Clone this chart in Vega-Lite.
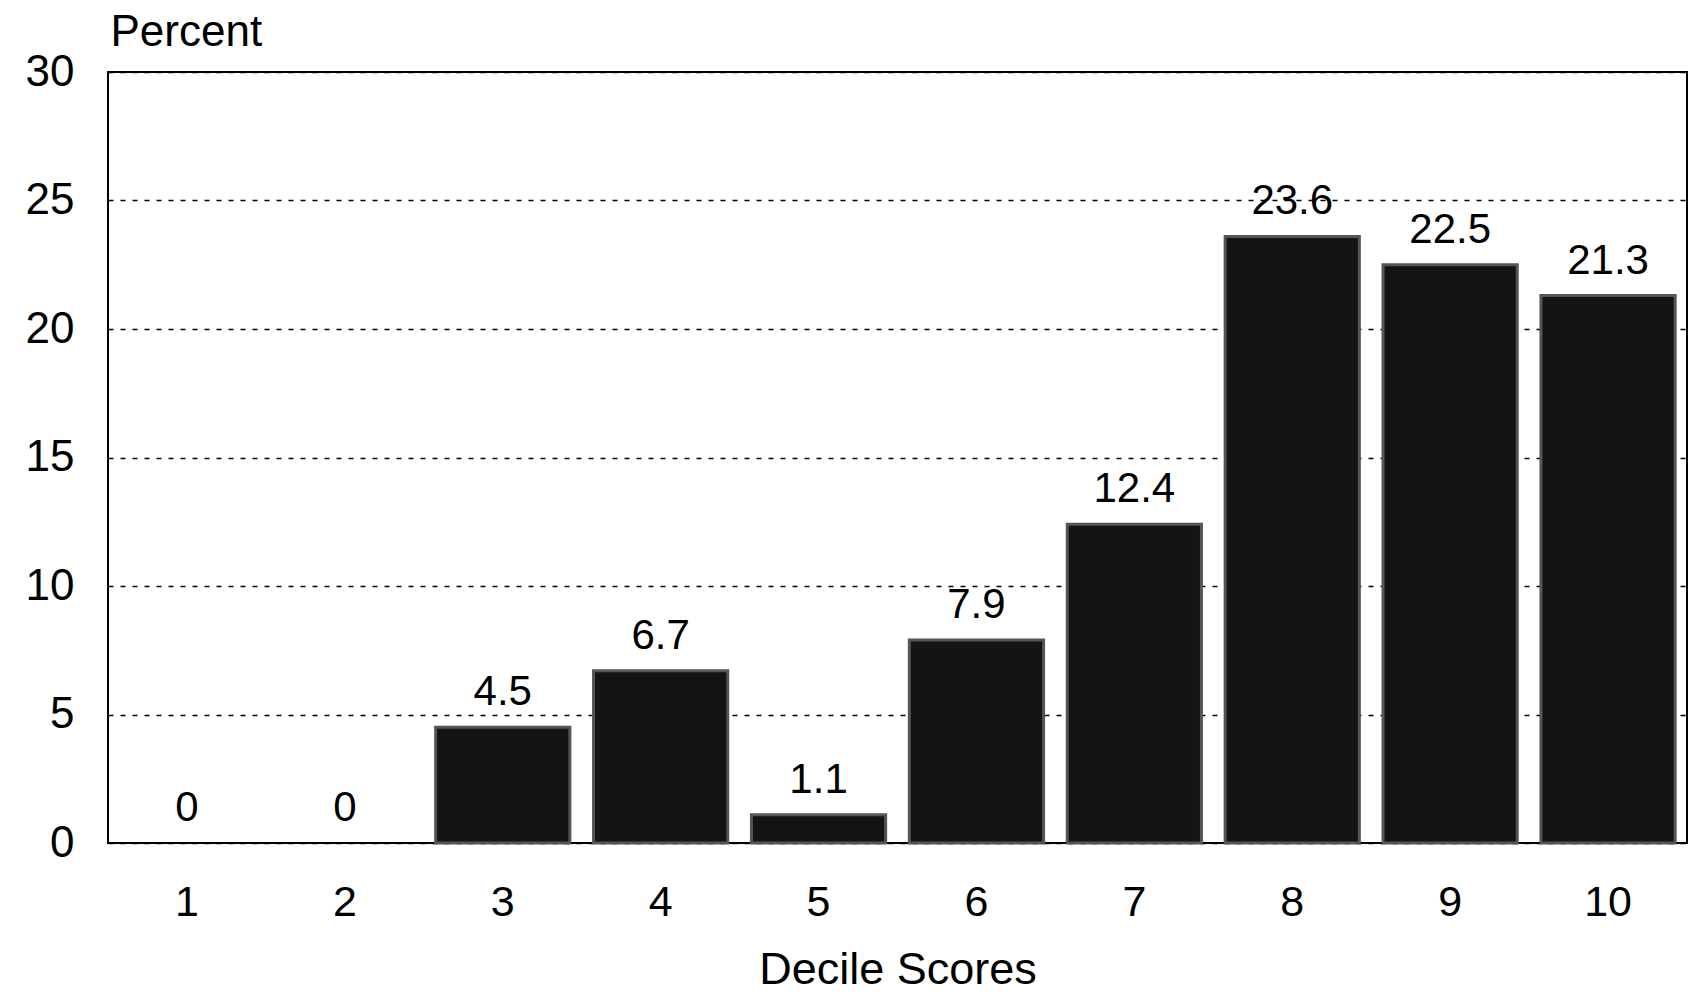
{
  "$schema": "https://vega.github.io/schema/vega-lite/v6.json",
  "width": 1579,
  "height": 771,
  "autosize": {"type": "none"},
  "padding": {"left": 108, "top": 72, "right": 2, "bottom": 152},
  "background": "white",
  "config": {
    "font": "Liberation Sans",
    "view": {"stroke": "black", "strokeWidth": 2}
  },
  "data": {
    "values": [
      {"decile": "1", "pct": 0, "label": "0"},
      {"decile": "2", "pct": 0, "label": "0"},
      {"decile": "3", "pct": 4.5, "label": "4.5"},
      {"decile": "4", "pct": 6.7, "label": "6.7"},
      {"decile": "5", "pct": 1.1, "label": "1.1"},
      {"decile": "6", "pct": 7.9, "label": "7.9"},
      {"decile": "7", "pct": 12.4, "label": "12.4"},
      {"decile": "8", "pct": 23.6, "label": "23.6"},
      {"decile": "9", "pct": 22.5, "label": "22.5"},
      {"decile": "10", "pct": 21.3, "label": "21.3"}
    ]
  },
  "encoding": {
    "x": {
      "field": "decile",
      "type": "ordinal",
      "sort": null,
      "scale": {"paddingInner": 0.15, "paddingOuter": 0.075},
      "axis": {
        "title": "Decile Scores",
        "titleFont": "Liberation Sans",
        "titleFontSize": 45,
        "titleFontWeight": "normal",
        "titleColor": "black",
        "titlePadding": 23,
        "labelAngle": 0,
        "labelFontSize": 43,
        "labelColor": "black",
        "labelPadding": 38,
        "ticks": false,
        "domain": false,
        "grid": false
      }
    },
    "y": {
      "field": "pct",
      "type": "quantitative",
      "scale": {"domain": [0, 30], "nice": false},
      "axis": {
        "values": [0, 5, 10, 15, 20, 25, 30],
        "title": "Percent",
        "titleAngle": 0,
        "titleAlign": "left",
        "titleBaseline": "alphabetic",
        "titleX": 2,
        "titleY": -27,
        "titleFontSize": 44,
        "titleFontWeight": "normal",
        "titleColor": "black",
        "labelFontSize": 44,
        "labelColor": "black",
        "labelPadding": 34,
        "ticks": false,
        "domain": false,
        "grid": true,
        "gridColor": "black",
        "gridWidth": 1.5,
        "gridDash": [5, 7],
        "gridOpacity": 1
      }
    }
  },
  "layer": [
    {
      "mark": {"type": "bar", "fill": "#141414", "stroke": "#555555", "strokeWidth": 3},
      "encoding": {
        "strokeOpacity": {"condition": {"test": "datum.pct > 0", "value": 1}, "value": 0}
      }
    },
    {
      "mark": {"type": "text", "fontSize": 42, "baseline": "alphabetic", "dy": -22, "color": "black"},
      "encoding": {"text": {"field": "label"}}
    }
  ]
}
